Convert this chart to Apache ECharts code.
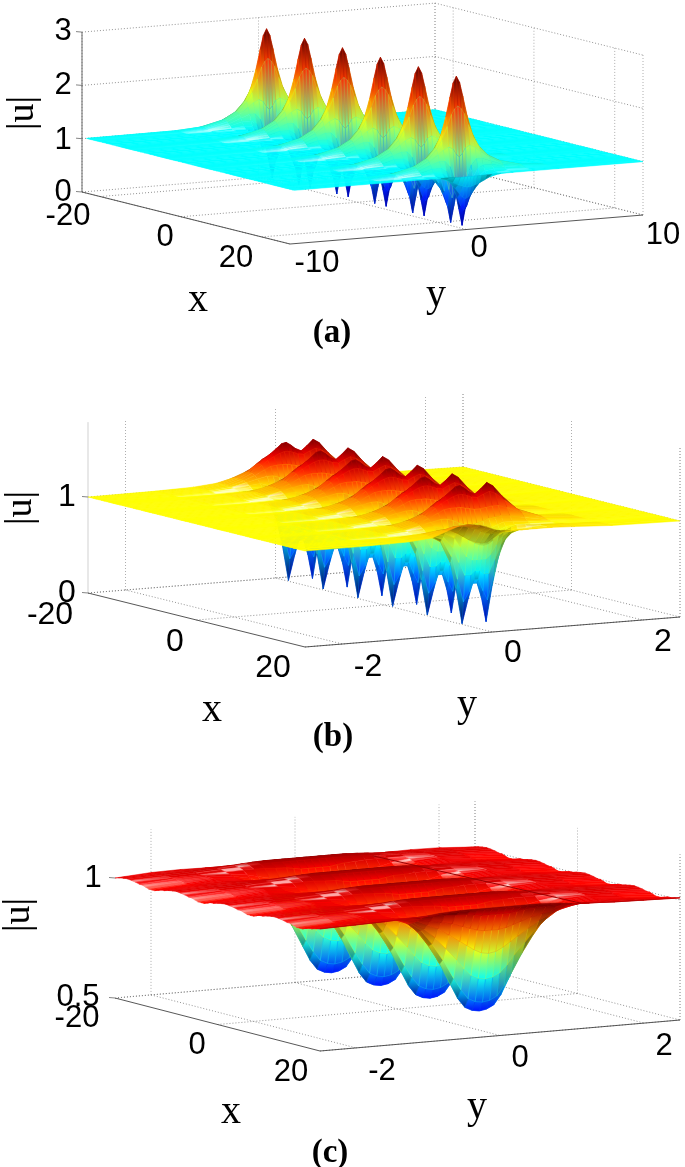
<!DOCTYPE html>
<html style="height: 100%">
<head>
	<meta charset="utf-8">
	<title></title>
	<script type="text/javascript" src="https://cdn.jsdelivr.net/npm/echarts@6/dist/echarts.min.js"></script>
</head>
<body style="height: 100%; margin: 0; background: #fff">
<div id="container" style="width: 685px; height: 1167px"></div>
<script type="text/javascript">
// values: x of every wave, x offsets inside one period,
// y columns and |u| for each offset/column
var centresA=[-23.6,-14.2,-4.8,4.6,14,23.4];
var rowDxA=[0,.35,.7,1.05,1.41,1.8,2.3,3,4];
var colYA=[0,.18,.36,.6,.9,1.2,1.7,2.4,3.6,5,10];
var heightsA=[
	[2.8,2.68,2.42,2.05,1.7,1.49,1.29,1.16,1.05,1.01,1],
	[2.25,2.2,2.1,1.88,1.63,1.46,1.28,1.15,1.05,1.01,1],
	[1.3,1.36,1.46,1.5,1.45,1.37,1.25,1.13,1.04,1.01,1],
	[.5,.66,.91,1.14,1.25,1.25,1.19,1.1,1.03,1.005,1],
	[.03,.34,.63,.9,1.07,1.13,1.13,1.07,1.02,1,1],
	[.32,.41,.57,.78,.95,1.03,1.05,1.03,1.01,1,1],
	[.55,.58,.65,.76,.88,.96,1,1.01,1,1,1],
	[.78,.79,.81,.84,.89,.94,.98,1,1,1,1],
	[.99,.99,.99,.99,.995,1,1,1,1,1,1]
];

var centresB=[-18.6,-12.2,-5.8,.6,7,13.4];
var rowDxB=[0,.5,1,1.5,2,2.4,2.7,2.95,3.2];
var colYB=[-2.5,-1.6,-1.1,-.8,-.6,-.45,-.32,-.24,-.16,-.08,-.02,.04,.1,.16,.24,.32,.4,.48,.6,.8,1.1,1.6,2.5];
var heightsB=[
	[1,1.005,1.015,1.045,1.09,1.15,1.23,1.28,1.33,1.38,1.42,1.43,1.4,1.36,1.33,1.38,1.44,1.4,1.29,1.14,1.05,1.01,1],
	[1,1.005,1.015,1.045,1.09,1.145,1.22,1.265,1.3,1.33,1.345,1.345,1.33,1.31,1.3,1.33,1.355,1.33,1.25,1.13,1.05,1.01,1],
	[1,1.005,1.015,1.04,1.085,1.13,1.18,1.21,1.22,1.22,1.22,1.21,1.2,1.19,1.19,1.2,1.21,1.21,1.18,1.11,1.04,1.01,1],
	[1,1.005,1.015,1.035,1.07,1.1,1.12,1.12,1.1,1.07,1.05,1.04,1.04,1.05,1.07,1.09,1.1,1.11,1.1,1.07,1.03,1.01,1],
	[1,1.005,1.012,1.03,1.05,1.06,1.03,1,.94,.9,.88,.87,.88,.91,.96,1,1.03,1.05,1.05,1.04,1.025,1.008,1],
	[1,1,1.01,1.02,1.03,1.02,.96,.87,.76,.72,.72,.72,.72,.76,.86,.94,.98,1.01,1.02,1.02,1.015,1.005,1],
	[1,1,1.005,1.015,1.01,.98,.86,.7,.56,.56,.6,.6,.56,.56,.7,.85,.94,.98,1,1.01,1.01,1.005,1],
	[1,1,1,1.01,1,.95,.76,.52,.28,.38,.5,.5,.38,.28,.52,.76,.9,.96,.99,1.01,1.01,1,1],
	[1,1,1,1.005,.99,.92,.7,.42,.05,.3,.46,.46,.3,.05,.42,.7,.88,.95,.985,1.005,1.005,1,1]
];
// front lip of panel (b), it does not follow the period
var lipXB=[17.9,19,20];
var lipHeightsB=[
	[1,1.005,1.02,1.04,1.06,1.07,1.02,.98,.94,.91,.9,.9,.91,.94,.98,1,1,1.01,1.02,1.03,1.03,1.01,1],
	[1,1,1.015,1.04,1.08,1.11,1.11,1.09,1.07,1.04,1.02,1.01,1.01,1.01,1.02,1.02,1.03,1.03,1.03,1.03,1.03,1.01,1],
	[1,1,1.01,1.03,1.09,1.13,1.14,1.13,1.12,1.1,1.08,1.06,1.05,1.05,1.04,1.04,1.04,1.04,1.04,1.04,1.03,1.01,1]
];

var centresC=[-17.65,-8.05,1.55,11.15,20.75];
var rowDxC=[0,.8,1.6,2.4,3,3.6,4.2,4.8];
var colYC=[0,.1,.2,.3,.4,.55,.7,.85,1,1.25,1.6,2,2.5];
var heightsC=[
	[1.035,1.035,1.035,1.035,1.035,1.035,1.033,1.03,1.025,1.02,1.016,1.013,1.01],
	[1.03,1.03,1.03,1.03,1.03,1.03,1.028,1.025,1.022,1.02,1.015,1.012,1.008],
	[1,1,1,1.005,1.01,1.012,1.015,1.015,1.015,1.015,1.012,1.01,1.005],
	[.93,.93,.935,.945,.955,.97,.98,.99,1,1.01,1.012,1.01,1],
	[.83,.835,.85,.87,.89,.92,.95,.97,.99,1.005,1.01,1.005,1],
	[.72,.725,.74,.77,.81,.86,.91,.95,.98,1,1.01,1.005,.995],
	[.62,.625,.64,.68,.73,.81,.88,.94,.975,1,1.01,1,.99],
	[.58,.585,.6,.64,.7,.79,.87,.93,.97,1,1.01,1,.99]
];
// crease across the back of panel (c): x, y at its two ends, at |u| = 1
var creaseC=[[-20,1.08,1],[17,1.34,1]];

var zTicksA=[0,1,2,3], xTicksA=[-20,0,20], yTicksA=[-10,0,10];
var zTicksB=[0,1], xTicksB=[-20,0,20], yTicksB=[-2,0,2];
var zTicksC=[.5,1], xTicksC=[-20,0,20], yTicksC=[-2,0,2];

// panel boxes: corners of the floor in page pixels
// colorKnee: the height that gets the sheet colour, and that colour's place on the jet map
var panels=[
	{
		lim:{x:[-24.5,27],y:[-10,10],z:[0,3]}, zPx:53.3, colorMax:2.7, colorKnee:[1,.375], y0:.25,
		left:[82,192], front:[290,244], right:[643,215],
		world:[1,1.3,.8], zAxisColor:'#555',
		centres:centresA, dx:rowDxA, colY:colYA, heights:heightsA, mirrorY:true,
		xTicks:xTicksA, yTicks:yTicksA, zTicks:zTicksA,
		fontSize:31,
		labels:[['3',63,31],['2',63,85],['1',63,140],['0',63,192],['-20',68,216],['0',165,237],['20',236,258],['-10',317,263],['0',479,248],['10',663,235]],
		xLabel:[198,300], yLabel:[436,295], uLabel:[23,113], tag:['(a)',332,333]
	},
	{
		lim:{x:[-20,20],y:[-2.5,2.5],z:[0,1.78]}, zPx:96, colorMax:1.43, colorKnee:[1,.625], y0:0,
		left:[88,593], front:[305,647], right:[680,617],
		world:[1,1.3,.8], zAxisColor:'#ccc',
		centres:centresB, dx:rowDxB, colY:colYB, heights:heightsB, mirrorY:false,
		lipX:lipXB, lipHeights:lipHeightsB,
		xTicks:xTicksB, yTicks:yTicksB, zTicks:zTicksB,
		fontSize:32,
		labels:[['1',67,497],['0',67,593],['-20',50,615],['0',175,642],['20',273,668],['-2',368,667],['0',513,653],['2',663,642]],
		xLabel:[212,710], yLabel:[467,705], uLabel:[21,508], tag:['(b)',333,737]
	},
	{
		lim:{x:[-20,20],y:[-2.5,2.5],z:[.5,1.19]}, zPx:240, colorMax:1.05, colorKnee:[1,.875], y0:0,
		left:[115,998], front:[320,1051], right:[680,1020],
		world:[1,1.3,.8], zAxisColor:'#fff', crease:creaseC,
		centres:centresC, dx:rowDxC, colY:colYC, heights:heightsC, mirrorY:true,
		xTicks:xTicksC, yTicks:yTicksC, zTicks:zTicksC,
		fontSize:31,
		labels:[['1',93,878],['0.5',78,997],['-20',77,1018],['0',197,1045],['20',291,1072],['-2',382,1071],['0',520,1058],['2',664,1046]],
		xLabel:[231,1112], yLabel:[477,1107], uLabel:[19,915], tag:['(c)',330,1153]
	}
];

// lighting: a headlight at the viewer, plus a shine tilted a little off the vertical
var viewer=unit([.6,-.4,.7]), lamp=viewer, shine=unit([.3,-.08,1]);
var ambient=.45, diffuse=.85, specular=1.7, gloss=320;

function unit(v){
	var l=Math.sqrt(v[0]*v[0]+v[1]*v[1]+v[2]*v[2]);
	return [v[0]/l,v[1]/l,v[2]/l];
}
function dot(a,b){return a[0]*b[0]+a[1]*b[1]+a[2]*b[2];}
function clamp01(v){return Math.max(0,Math.min(1,v));}
function jet(f){
	return [clamp01(1.5-Math.abs(4*f-3)),clamp01(1.5-Math.abs(4*f-2)),clamp01(1.5-Math.abs(4*f-1))];
}
function colourOf(p,z){
	var low=p.lim.z[0], k=p.colorKnee, f;
	if(z<=k[0]) f=(z-low)/(k[0]-low)*k[1];
	else f=k[1]+(z-k[0])/(p.colorMax-k[0])*(1-k[1]);
	return jet(f);
}
function project(p,x,y,z){
	var fx=(x-p.lim.x[0])/(p.lim.x[1]-p.lim.x[0]);
	var fy=(y-p.lim.y[0])/(p.lim.y[1]-p.lim.y[0]);
	return [
		p.left[0]+fx*(p.front[0]-p.left[0])+fy*(p.right[0]-p.front[0]),
		p.left[1]+fx*(p.front[1]-p.left[1])+fy*(p.right[1]-p.front[1])-(z-p.lim.z[0])*p.zPx
	];
}
function worldOf(p,x,y,z){
	return [
		p.world[0]*(x-p.lim.x[0])/(p.lim.x[1]-p.lim.x[0]),
		p.world[1]*(y-p.lim.y[0])/(p.lim.y[1]-p.lim.y[0]),
		p.world[2]*(z-p.lim.z[0])/(p.lim.z[1]-p.lim.z[0])
	];
}
function fullProfile(p,row){
	if(!p.mirrorY) return row;
	var out=[];
	for(var j=row.length-1;j>0;j--) out.push(row[j]);
	return out.concat(row);
}
function fullColumns(p){
	var cols=[];
	if(p.mirrorY){
		for(var j=p.colY.length-1;j>0;j--) cols.push(-p.colY[j]);
		cols=cols.concat(p.colY);
	}else{
		cols=p.colY.slice();
	}
	return cols.map(function(y){
		return Math.max(p.lim.y[0],Math.min(p.lim.y[1],y+p.y0));
	});
}
// rows of the surface: each wave uses the table of its period
function buildRows(p){
	var rows=[];
	var last=p.lipX?p.lipX[0]:p.lim.x[1]+99;
	p.centres.concat(p.lipX?[p.centres[p.centres.length-1]+p.dx[p.dx.length-1]*2]:[]).forEach(function(c){
		for(var i=p.dx.length-1;i>0;i--) rows.push({x:c-p.dx[i],z:fullProfile(p,p.heights[i])});
		for(var i=0;i<p.dx.length;i++) rows.push({x:c+p.dx[i],z:fullProfile(p,p.heights[i])});
	});
	rows=rows.filter(function(r){return r.x<last;});
	if(p.lipX){
		p.lipX.forEach(function(x,i){rows.push({x:x,z:p.lipHeights[i]});});
	}
	rows.sort(function(a,b){return a.x-b.x;});
	var out=[],i;
	for(i=0;i<rows.length;i++){
		var r=rows[i];
		if(r.x<p.lim.x[0]){
			if(i+1<rows.length && rows[i+1].x>p.lim.x[0]) out.push({x:p.lim.x[0],z:r.z});
			continue;
		}
		if(r.x>p.lim.x[1]){
			if(out[out.length-1].x<p.lim.x[1]) out.push({x:p.lim.x[1],z:r.z});
			continue;
		}
		if(out.length && r.x-out[out.length-1].x<1e-6) continue;
		out.push(r);
	}
	return out;
}
function toCss(c){
	return 'rgb('+Math.round(255*clamp01(c[0]))+','+Math.round(255*clamp01(c[1]))+','+Math.round(255*clamp01(c[2]))+')';
}
// colour of one grid vertex: jet from the height, lit with the normal of the grid there
function vertexColours(p,rows,cols){
	var flat=(ambient+diffuse*Math.abs(lamp[2]))*.85;
	return rows.map(function(row,i){
		return cols.map(function(y,j){
			var a=rows[Math.max(i-1,0)], b=rows[Math.min(i+1,rows.length-1)];
			var l=Math.max(j-1,0), r=Math.min(j+1,cols.length-1);
			var wa=worldOf(p,a.x,y,a.z[j]), wb=worldOf(p,b.x,y,b.z[j]);
			var wl=worldOf(p,row.x,cols[l],row.z[l]), wr=worldOf(p,row.x,cols[r],row.z[r]);
			var d1=[wb[0]-wa[0],wb[1]-wa[1],wb[2]-wa[2]], d2=[wr[0]-wl[0],wr[1]-wl[1],wr[2]-wl[2]];
			var n=unit([d1[1]*d2[2]-d1[2]*d2[1],d1[2]*d2[0]-d1[0]*d2[2],d1[0]*d2[1]-d1[1]*d2[0]]);
			if(n[2]<0) n=[-n[0],-n[1],-n[2]];
			if(dot(n,viewer)<0) n=[-n[0],-n[1],-n[2]];
			var s=Math.min(1,(ambient+diffuse*Math.max(0,dot(n,lamp)))/flat);
			var sp=specular*Math.pow(Math.max(0,dot(n,shine)),gloss);
			sp=Math.max(0,sp-specular*Math.pow(shine[2],gloss));
			var c=colourOf(p,row.z[j]);
			return [c[0]*s+sp,c[1]*s+sp,c[2]*s+sp];
		});
	});
}
// far rows first, and inside a row the far columns first
function buildQuads(p){
	var rows=buildRows(p), cols=fullColumns(p), quads=[];
	var colours=vertexColours(p,rows,cols);
	for(var i=0;i<rows.length-1;i++){
		for(var j=cols.length-2;j>=0;j--){
			if(cols[j+1]-cols[j]<1e-6) continue;
			var ids=[[i,j],[i+1,j],[i+1,j+1],[i,j+1]];
			var pts=ids.map(function(t){return project(p,rows[t[0]].x,cols[t[1]],rows[t[0]].z[t[1]]);});
			var cs=ids.map(function(t){return colours[t[0]][t[1]];});
			var top=0,bot=0;
			for(var k=1;k<4;k++){
				if(pts[k][1]<pts[top][1]) top=k;
				if(pts[k][1]>pts[bot][1]) bot=k;
			}
			var mean=[0,1,2].map(function(n){return (cs[0][n]+cs[1][n]+cs[2][n]+cs[3][n])/4;});
			quads.push({pts:pts,top:toCss(cs[top]),bottom:toCss(cs[bot]),mean:toCss(mean)});
		}
	}
	return quads;
}
function buildBoxLines(p){
	var segs=[], x0=p.lim.x[0], x1=p.lim.x[1], y0=p.lim.y[0], y1=p.lim.y[1], z0=p.lim.z[0], z1=p.lim.z[1];
	function dotted(a,b,c){segs.push({a:a,b:b,color:c||'#777',width:.8,dash:[1,2]});}
	p.xTicks.forEach(function(x){
		dotted(project(p,x,y0,z0),project(p,x,y1,z0));
		dotted(project(p,x,y1,z0),project(p,x,y1,z1),'#999');
	});
	p.yTicks.forEach(function(y){
		dotted(project(p,x0,y,z0),project(p,x1,y,z0));
		dotted(project(p,x0,y,z0),project(p,x0,y,z1),'#999');
	});
	p.zTicks.forEach(function(z){
		dotted(project(p,x0,y0,z),project(p,x0,y1,z));
		dotted(project(p,x0,y1,z),project(p,x1,y1,z));
	});
	dotted(project(p,x0,y1,z0),project(p,x0,y1,z1),'#999');
	dotted(project(p,x1,y1,z0),project(p,x1,y1,z1),'#999');
	segs.push({a:project(p,x0,y0,z0),b:project(p,x1,y0,z0),color:'#444',width:.9});
	segs.push({a:project(p,x1,y0,z0),b:project(p,x1,y1,z0),color:'#444',width:.9});
	segs.push({a:project(p,x0,y0,z0),b:project(p,x0,y0,z1),color:p.zAxisColor,width:.9});
	p.zTicks.forEach(function(z){
		var a=project(p,x0,y0,z);
		segs.push({a:[a[0]-6,a[1]-.5],b:a,color:'#666',width:.8});
	});
	return segs;
}

var allLines=[], overLines=[], series=[], graphics=[];
panels.forEach(function(p){
	allLines=allLines.concat(buildBoxLines(p));
	if(p.crease){
		overLines.push({
			a:project(p,p.crease[0][0],p.crease[0][1],p.crease[0][2]),
			b:project(p,p.crease[1][0],p.crease[1][1],p.crease[1][2]),
			color:'#9a0000',width:1
		});
	}
	var f=p.fontSize+'px "Liberation Sans"';
	p.labels.forEach(function(l){
		graphics.push({type:'text',x:l[1],y:l[2],z:5,style:{text:l[0],font:f,fill:'#000',textAlign:'center',textVerticalAlign:'middle'}});
	});
	var serif='40px "Liberation Serif"';
	graphics.push({type:'text',x:p.xLabel[0],y:p.xLabel[1],z:5,style:{text:'x',font:serif,fill:'#000',textAlign:'center',textVerticalAlign:'middle'}});
	graphics.push({type:'text',x:p.yLabel[0],y:p.yLabel[1],z:5,style:{text:'y',font:serif,fill:'#000',textAlign:'center',textVerticalAlign:'middle'}});
	graphics.push({type:'text',x:p.uLabel[0],y:p.uLabel[1],rotation:Math.PI/2,z:5,style:{text:'|u|',font:'38px "Liberation Serif"',fill:'#000',textAlign:'center',textVerticalAlign:'middle'}});
	graphics.push({type:'text',x:p.tag[1],y:p.tag[2],z:5,style:{text:p.tag[0],font:'bold 33px "Liberation Serif"',fill:'#000',textAlign:'center',textVerticalAlign:'middle'}});
});

function lineSeries(list,z){
	return {
		type:'custom',
		coordinateSystem:'cartesian2d',
		silent:true,
		clip:false,
		z:z,
		progressive:0,
		animation:false,
		data:list.map(function(s,i){return [s.a[0],s.a[1],i];}),
		renderItem:function(params,api){
			var s=list[api.value(2)];
			var a=api.coord(s.a), b=api.coord(s.b);
			return {type:'line',shape:{x1:a[0],y1:a[1],x2:b[0],y2:b[1]},style:{stroke:s.color,lineWidth:s.width,lineDash:s.dash||null,fill:null}};
		}
	};
}
series.push(lineSeries(allLines,1));
panels.forEach(function(p,n){
	var quads=buildQuads(p);
	series.push({
		type:'custom',
		coordinateSystem:'cartesian2d',
		silent:true,
		clip:false,
		z:2+n,
		progressive:0,
		animation:false,
		data:quads.map(function(q,i){return [q.pts[0][0],q.pts[0][1],i];}),
		renderItem:function(params,api){
			var q=quads[api.value(2)];
			var fill=q.top===q.bottom?q.mean:new echarts.graphic.LinearGradient(0,0,0,1,[{offset:0,color:q.top},{offset:1,color:q.bottom}]);
			return {
				type:'polygon',
				shape:{points:q.pts.map(function(t){return api.coord(t);})},
				style:{fill:fill,stroke:q.mean,lineWidth:.5}
			};
		}
	});
});
series.push(lineSeries(overLines,6));

var myChart=echarts.init(document.getElementById('container'),null,{renderer:'canvas'});
myChart.setOption({
	animation:false,
	backgroundColor:'#fff',
	grid:{left:0,right:0,top:0,bottom:0},
	xAxis:{type:'value',min:0,max:685,show:false},
	yAxis:{type:'value',min:0,max:1167,inverse:true,show:false},
	graphic:{elements:graphics},
	series:series
});
</script>
</body>
</html>
